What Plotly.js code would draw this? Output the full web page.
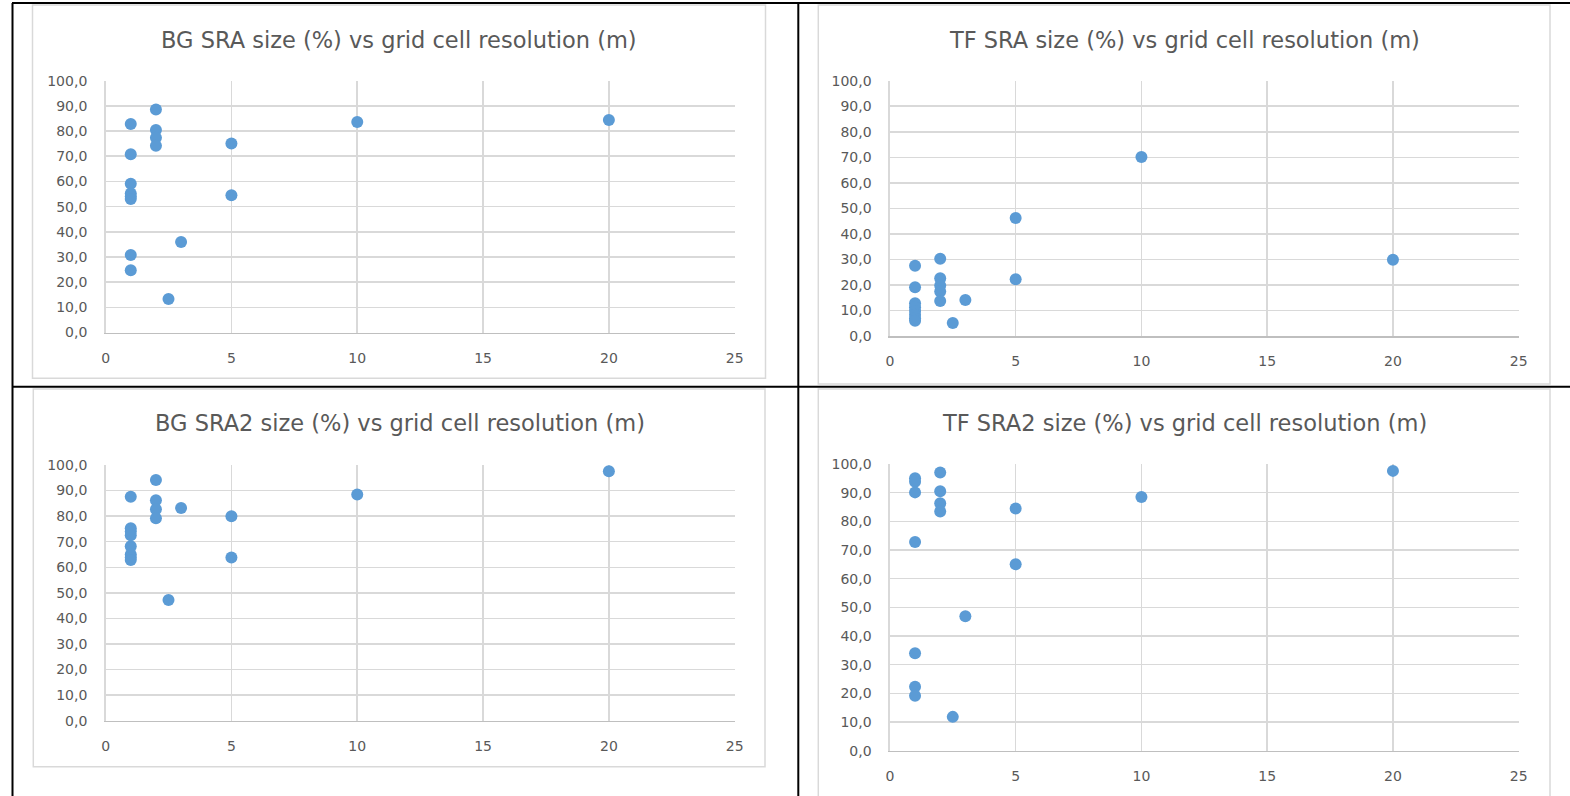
<!DOCTYPE html>
<html>
<head>
<meta charset="utf-8">
<script src="https://cdn.plot.ly/plotly-3.0.1.min.js"></script>
<style>
  html, body { margin: 0; padding: 0; background: #ffffff; }
  #chart { width: 1570px; height: 796px; }
</style>
</head>
<body>
<div id="chart"></div>
<script>
// ---- Data ----
const titles = [
  "BG SRA size (%) vs grid cell resolution (m)",
  "TF SRA size (%) vs grid cell resolution (m)",
  "BG SRA2 size (%) vs grid cell resolution (m)",
  "TF SRA2 size (%) vs grid cell resolution (m)"
];

const xTicks = [0, 5, 10, 15, 20, 25];

const bgSraX = [1, 1, 1, 1, 1, 1, 1, 1, 2, 2, 2, 2, 2.5, 3, 5, 5, 10, 20];
const bgSraY = [82.8, 70.8, 59.1, 55.2, 54.0, 53.0, 30.8, 24.7, 88.6, 80.4, 77.3, 74.2, 13.3, 35.9, 75.1, 54.5, 83.6, 84.4];

const tfSraX = [1, 1, 1, 1, 1, 1, 1, 1, 2, 2, 2, 2, 2, 2.5, 3, 5, 5, 10, 20];
const tfSraY = [27.5, 19.1, 12.8, 11.3, 9.8, 8.3, 7.0, 6.0, 30.3, 22.6, 19.8, 17.4, 13.7, 5.1, 14.1, 46.2, 22.2, 70.1, 29.9];

const bgSra2X = [1, 1, 1, 1, 1, 1, 1, 1, 2, 2, 2, 2, 2.5, 3, 5, 5, 10, 20];
const bgSra2Y = [87.6, 75.3, 74.0, 72.5, 68.2, 65.0, 63.8, 62.8, 94.1, 86.2, 82.7, 79.2, 47.2, 83.2, 80.0, 63.8, 88.5, 97.6];

const tfSra2X = [1, 1, 1, 1, 1, 1, 1, 2, 2, 2, 2, 2.5, 3, 5, 5, 10, 20];
const tfSra2Y = [95.0, 93.8, 90.1, 72.8, 34.0, 22.3, 19.2, 97.0, 90.5, 86.3, 83.4, 11.8, 46.9, 84.5, 65.0, 88.5, 97.6];

// ---- Layout helpers ----
const W = 1570, H = 796;
const px = v => v / W;
const py = v => 1 - v / H;

const FONT = "DejaVu Sans";
const TXT = "#595959";
const GRID = "#d9d9d9";
const MARK = "#5b9bd5";

const series = [
  [bgSraX, bgSraY],
  [tfSraX, tfSraY],
  [bgSra2X, bgSra2Y],
  [tfSra2X, tfSra2Y]
];

// plot-area pixel boxes [left, right, top, bottom]
const plotBoxes = [
  [105.6, 734.7, 80.7, 332.5],
  [889.9, 1518.7, 80.7, 336.0],
  [105.6, 734.7, 465.0, 720.7],
  [889.9, 1518.7, 464.0, 750.7]
];
// title centres
const titlePos = [[398.5, 40], [1184, 40], [400, 423], [1184, 423]];

const data = series.map((s, i) => ({
  type: "scatter",
  mode: "markers",
  x: s[0],
  y: s[1],
  xaxis: i === 0 ? "x" : "x" + (i + 1),
  yaxis: i === 0 ? "y" : "y" + (i + 1),
  marker: { color: MARK, size: 12, line: { width: 0 } },
  hoverinfo: "x+y",
  showlegend: false
}));

const layout = {
  width: W,
  height: H,
  margin: { l: 0, r: 0, t: 0, b: 0 },
  paper_bgcolor: "#ffffff",
  plot_bgcolor: "#ffffff",
  separators: ",.",
  font: { family: FONT, size: 14, color: TXT },
  showlegend: false,
  annotations: [],
  shapes: []
};

plotBoxes.forEach((b, i) => {
  const sfx = i === 0 ? "" : String(i + 1);
  layout["xaxis" + sfx] = {
    domain: [px(b[0]), px(b[1])],
    anchor: "y" + sfx,
    range: [0, 25],
    tickvals: xTicks,
    ticktext: xTicks.map(String),
    showgrid: true,
    gridcolor: GRID,
    gridwidth: 1.5,
    zeroline: false,
    showline: true,
    linecolor: "#bfbfbf",
    linewidth: 1.5,
    ticks: "outside",
    ticklen: 12,
    tickcolor: "rgba(0,0,0,0)",
    tickfont: { family: FONT, size: 14, color: TXT },
    fixedrange: true
  };
  layout["yaxis" + sfx] = {
    domain: [py(b[3]), py(b[2])],
    anchor: "x" + sfx,
    range: [0, 100],
    dtick: 10,
    tick0: 0,
    tickformat: ".1f",
    showgrid: true,
    gridcolor: GRID,
    gridwidth: 1.5,
    zeroline: false,
    showline: true,
    linecolor: GRID,
    linewidth: 1.5,
    ticks: "outside",
    ticklen: 14,
    tickcolor: "rgba(0,0,0,0)",
    tickfont: { family: FONT, size: 14, color: TXT },
    fixedrange: true
  };
  layout.annotations.push({
    text: titles[i],
    xref: "paper", yref: "paper",
    x: px(titlePos[i][0]), y: py(titlePos[i][1]),
    xanchor: "center", yanchor: "middle",
    showarrow: false,
    font: { family: FONT, size: 22.5, color: TXT }
  });
});

// light chart-area frames
const frames = [
  [32.5, 765.5, 5, 378.3],
  [818.3, 1550, 5, 384],
  [33.3, 765, 389, 766.7],
  [818.3, 1550, 389, 810]
];
frames.forEach(f => {
  layout.shapes.push({
    type: "rect", xref: "paper", yref: "paper",
    x0: px(f[0]), x1: px(f[1]), y0: py(f[3]), y1: py(f[2]),
    line: { color: GRID, width: 1.5 }, fillcolor: "rgba(0,0,0,0)", layer: "below"
  });
});

// black table borders
const blackLines = [
  [12, 3, 1570, 3],
  [12.5, 3, 12.5, 796],
  [798.3, 3, 798.3, 796],
  [12, 386.8, 1570, 386.8]
];
blackLines.forEach(l => {
  layout.shapes.push({
    type: "line", xref: "paper", yref: "paper",
    x0: px(l[0]), y0: py(l[1]), x1: px(l[2]), y1: py(l[3]),
    line: { color: "#000000", width: 2 }, layer: "above"
  });
});

Plotly.newPlot("chart", data, layout, { displayModeBar: false, staticPlot: true });
</script>
</body>
</html>
